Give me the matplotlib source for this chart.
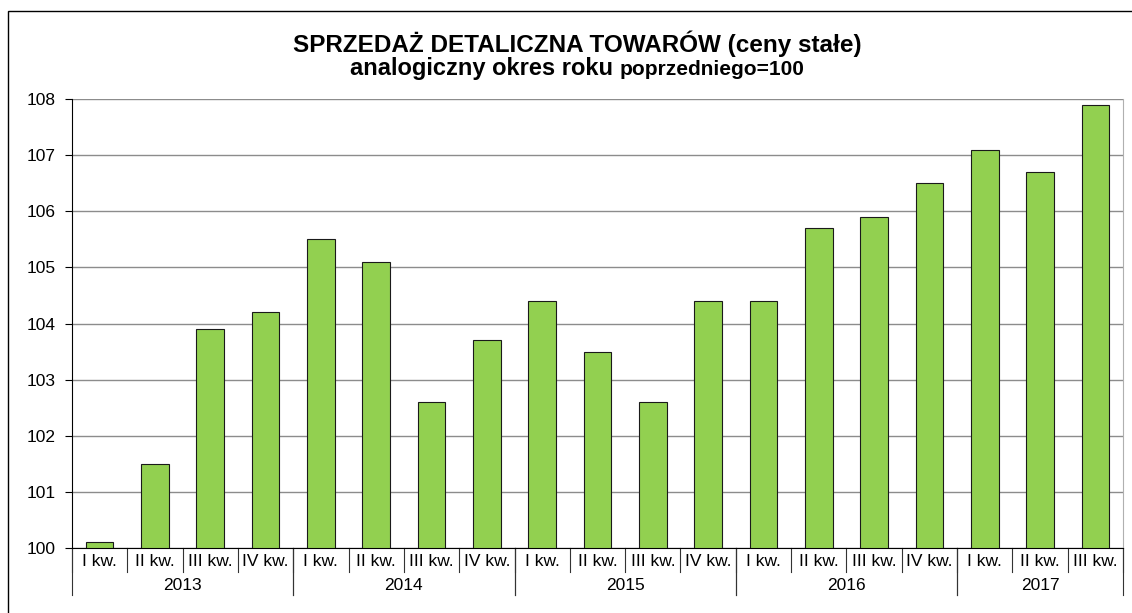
import numpy as np
import matplotlib.pyplot as plt
from matplotlib.patches import Rectangle
import matplotlib.transforms as mtransforms

plt.rcParams['font.family'] = ['Liberation Sans', 'DejaVu Sans']

# ============ DATA ============
years = ['2013', '2014', '2015', '2016', '2017']
quarters_per_year = [4, 4, 4, 4, 3]
quarter_names = ['I kw.', 'II kw.', 'III kw.', 'IV kw.']
values = [100.1, 101.5, 103.9, 104.2,
          105.5, 105.1, 102.6, 103.7,
          104.4, 103.5, 102.6, 104.4,
          104.4, 105.7, 105.9, 106.5,
          107.1, 106.7, 107.9]
yticks = [100, 101, 102, 103, 104, 105, 106, 107, 108]

quarter_labels = []
for nq in quarters_per_year:
    quarter_labels += quarter_names[:nq]

W, H = 1132, 613
fig = plt.figure(figsize=(W / 100, H / 100), dpi=100)
ax = fig.add_axes([72 / W, 1 - 548 / H, (1123 - 72) / W, (548 - 99) / H])

x = np.arange(len(values))
ax.bar(x, np.array(values) - 100, bottom=100, width=0.5,
       color='#92D050', edgecolor='#1a1a1a', linewidth=0.8, zorder=3)

ax.set_xlim(-0.5, len(values) - 0.5)
ax.set_ylim(100, 108)
ax.set_yticks(yticks)
ax.set_yticklabels([str(v) for v in yticks], fontsize=12.5)
ax.yaxis.grid(True, color='#8c8c8c', linewidth=1.0, zorder=0)
ax.tick_params(axis='y', length=5, width=0.8, direction='out', pad=7)

ax.spines['top'].set_visible(False)
ax.spines['right'].set_color('#b0b0b0')
ax.spines['left'].set_color('black')
ax.spines['bottom'].set_color('black')

# quarter labels
ax.set_xticks(x)
ax.set_xticklabels(quarter_labels, fontsize=12.5)
ax.tick_params(axis='x', length=0, pad=4)

trans = mtransforms.blended_transform_factory(ax.transData, ax.transAxes)
px = 1.0 / (548 - 99)  # one pixel in axes-y units

# quarter separators
for b in np.arange(-0.5, len(values), 1.0):
    ax.plot([b, b], [0, -24 * px], transform=trans, color='#333333',
            linewidth=0.8, clip_on=False)

# year separators and year labels
start = 0
for yr, nq in zip(years, quarters_per_year):
    for b in [start - 0.5, start + nq - 0.5]:
        ax.plot([b, b], [0, -47 * px], transform=trans, color='#333333',
                linewidth=0.8, clip_on=False)
    ax.text(start + (nq - 1) / 2, -37 * px, yr, transform=trans,
            ha='center', va='center', fontsize=12.5)
    start += nq

# titles
fig.text(577 / W, 1 - 44 / H, 'SPRZEDAŻ DETALICZNA TOWARÓW (ceny stałe)',
         ha='center', va='center', fontsize=17.5, fontweight='bold')
t1 = fig.text(0, 1 - 75 / H, 'analogiczny okres roku ', ha='left',
              va='baseline', fontsize=17, fontweight='bold')
t2 = fig.text(0, 1 - 75 / H, 'poprzedniego=100', ha='left',
              va='baseline', fontsize=15, fontweight='bold')
fig.canvas.draw()
r = fig.canvas.get_renderer()
w1 = t1.get_window_extent(r).width
w2 = t2.get_window_extent(r).width
x0 = 577 - (w1 + w2) / 2
t1.set_x(x0 / W)
t2.set_x((x0 + w1) / W)

# outer border
fig.patches.append(Rectangle((8 / W, -0.1), 1.2, 1 - 11 / H + 0.1,
                             transform=fig.transFigure, fill=False,
                             edgecolor='black', linewidth=1.0))

fig.savefig('out.png', dpi=100)
